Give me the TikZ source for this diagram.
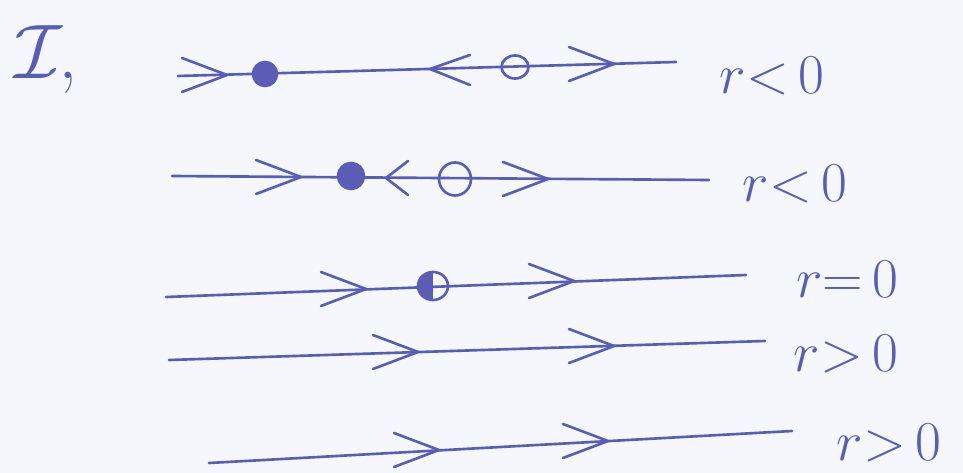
\RequirePackage{fix-cm}
\documentclass[tikz,border=0pt]{standalone}
\usetikzlibrary{shapes.geometric}
\begin{document}
\begin{tikzpicture}[x=0.2mm,y=-0.2mm,line cap=round,line join=round]

    % Colours: ballpoint ink on paper
    \definecolor{ink}{RGB}{90,92,182}
    \definecolor{paper}{RGB}{244,247,252}

    % Pen width
    \def\pw{1.5pt}

    % Sheet (1 unit = 1 px of the scan, y downwards)
    \fill[paper] (0,0) rectangle (963,473);
    \useasboundingbox (0,0) rectangle (963,473);

    \tikzset{
        pen/.style={draw=ink, line width=\pw},
        chevR/.pic={\draw[pen] (-45,-17) -- (0,0) -- (-45,17);},
        chevL/.pic={\draw[pen] (40,-14) -- (0,0) -- (40,16);},
        chevLs/.pic={\draw[pen] (22,-17) -- (0,0) -- (22,17);},
        sink/.style={circle, pen, fill=ink, inner sep=0pt},
        source/.style={ellipse, pen, inner sep=0pt},
        half/.style={ellipse, pen, inner sep=0pt,
            path picture={\fill[ink] (path picture bounding box.north west)
                rectangle (path picture bounding box.south);}},
        lbl/.style={text=ink, font=\fontsize{32}{34}\selectfont}
    }

    % Number of the exercise
    \node[text=ink, font=\fontsize{44}{48}\selectfont, anchor=west, inner sep=0pt]
        (num) at (14,60) {$\mathcal{I}$\kern-2pt,};

    % --- row 1: r<0, sink left, source right ---
    \coordinate (a1) at (178,76);
    \coordinate (b1) at (676,62);
    \draw[pen] (a1) -- (b1);
    \pic (c11) at (227,75) {chevR};
    \node[sink, minimum size=4.8mm] (s1) at (265,74) {};
    \pic (c12) at (430,69) {chevL};
    \node[source, minimum width=5.4mm, minimum height=4.6mm] (u1) at (515,67) {};
    \pic (c13) at (614,64) {chevR};
    \node[lbl] (l1) at (772,76) {$r{<}\,0$};

    % --- row 2: r<0, the two fixed points close together ---
    \coordinate (a2) at (172,176);
    \coordinate (b2) at (709,180);
    \draw[pen] (a2) -- (b2);
    \pic (c21) at (301,177) {chevR};
    \node[sink, minimum size=5.2mm] (s2) at (351,176) {};
    \pic (c22) at (386,178) {chevLs};
    \node[source, minimum width=6.4mm, minimum height=6.6mm] (u2) at (455,179) {};
    \pic (c23) at (548,179) {chevR};
    \node[lbl] (l2) at (795,184) {$r{<}\,0$};

    % --- row 3: r=0, half-stable point ---
    \coordinate (a3) at (166,297);
    \coordinate (b3) at (746,275);
    \draw[pen] (a3) -- (b3);
    \pic (c31) at (366,289) {chevR};
    \node[half, minimum width=6mm, minimum height=5.6mm] (h3) at (433,286) {};
    \pic (c32) at (574,281) {chevR};
    \node[lbl] (l3) at (847,279) {$r{=}\,0$};

    % --- row 4: r>0 ---
    \coordinate (a4) at (169,360);
    \coordinate (b4) at (765,341);
    \draw[pen] (a4) -- (b4);
    \pic (c41) at (418,352) {chevR};
    \pic (c42) at (614,346) {chevR};
    \node[lbl] (l4) at (846,354) {$r{>}\,0$};

    % --- row 5: r>0 ---
    \coordinate (a5) at (209,463);
    \coordinate (b5) at (792,431);
    \draw[pen] (a5) -- (b5);
    \pic (c51) at (439,450) {chevR};
    \pic (c52) at (608,441) {chevR};
    \node[lbl] (l5) at (889,443) {$r{>}\,0$};

\end{tikzpicture}
\end{document}
